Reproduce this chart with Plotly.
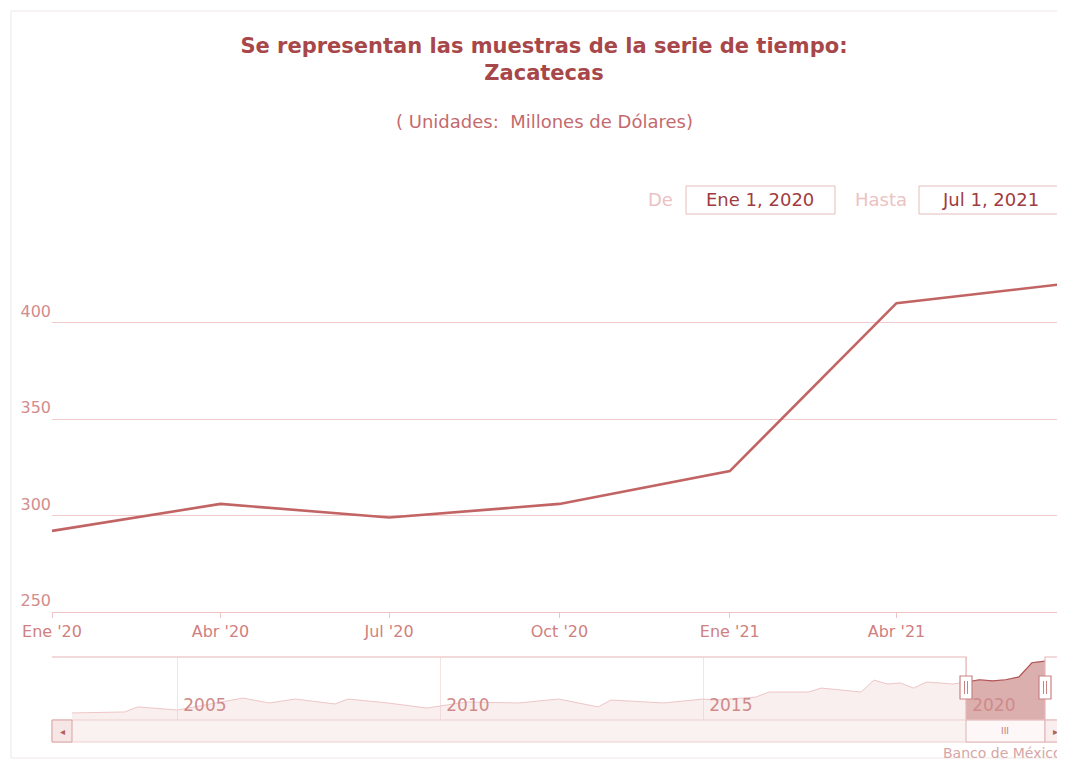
import plotly.graph_objects as go

# ---------------- data ----------------
main_dates = ["2020-01-01", "2020-04-01", "2020-07-01", "2020-10-01",
              "2021-01-01", "2021-04-01", "2021-07-01"]
main_values = [292, 306, 299, 306, 323, 410, 420]

x_tickvals = main_dates
x_ticktext = ["Ene '20", "Abr '20", "Jul '20", "Oct '20", "Ene '21", "Abr '21", "Jul '21"]

y_tickvals = [250, 300, 350, 400, 450]
y_ticktext = ["250", "300", "350", "400", ""]

hist_dates = ["2003-01-01", "2004-01-01", "2004-04-01", "2005-01-01", "2006-04-01",
              "2006-10-01", "2007-04-01", "2008-01-01", "2008-04-01", "2009-01-01",
              "2009-10-01", "2010-07-01", "2011-07-01", "2012-04-01", "2013-01-01",
              "2013-04-01", "2014-04-01", "2015-01-01", "2015-04-01", "2016-01-01",
              "2016-04-01", "2017-01-01", "2017-04-01", "2018-01-01", "2018-04-01",
              "2018-07-01", "2018-10-01", "2019-01-01", "2019-04-01", "2019-10-01"]
hist_values = [103, 109, 140, 121, 194, 164, 188, 158, 188, 164,
               133, 170, 164, 188, 140, 182, 164, 188, 182, 200,
               231, 231, 255, 231, 304, 280, 286, 255, 292, 280]

nav_tickvals = ["2005-01-01", "2010-01-01", "2015-01-01", "2020-01-01"]
nav_ticktext = ["2005", "2010", "2015", "2020"]

# ---------------- geometry helpers ----------------
# the page body adds an 8px margin, so the figure is offset by (8, 8)
OFF = 8
W, H = 1065 - OFF, 760 - OFF
L, R = 52 - OFF, 0
T = 226 - OFF
B = H - (742 - OFF)
PW = W - L - R
PH = H - T - B


def px(x):
    """page x (reference pixels) -> paper x"""
    return (x - OFF - L) / PW


def py(y):
    """page y (reference pixels) -> paper y"""
    return (H - B - (y - OFF)) / PH


FONT = "DejaVu Sans"
TITLE_C = "#a8474a"
LINE_C = "#c26464"
GRID_C = "#f0caca"
LABEL_C = "#cf8080"

fig = go.Figure()

fig.add_trace(go.Scatter(
    x=main_dates, y=main_values, mode="lines",
    line=dict(color=LINE_C, width=2.6), xaxis="x", yaxis="y",
    showlegend=False, hoverinfo="x+y"))

nav_all_x = hist_dates + main_dates
nav_all_y = hist_values + main_values
fig.add_trace(go.Scatter(
    x=nav_all_x, y=nav_all_y, mode="lines", fill="tozeroy",
    fillcolor="rgba(236,190,190,0.25)", line=dict(color="#eec6c6", width=1),
    xaxis="x2", yaxis="y2", showlegend=False, hoverinfo="skip"))
fig.add_trace(go.Scatter(
    x=main_dates, y=main_values, mode="lines", fill="tozeroy",
    fillcolor="rgba(205,140,140,0.65)", line=dict(color="#b25555", width=1.2),
    xaxis="x2", yaxis="y2", showlegend=False, hoverinfo="skip"))

shapes = []
# outer chart border
shapes.append(dict(type="rect", xref="paper", yref="paper",
                   x0=px(11), x1=px(1080), y0=py(758), y1=py(11),
                   line=dict(color="#f1e6e6", width=1), layer="below"))

# navigator outline
nav_top, nav_bot = 657, 720
sel_l, sel_r = 966, 1045
path = (f"M {px(52)},{py(nav_top)} L {px(sel_l)},{py(nav_top)} L {px(sel_l)},{py(nav_bot)} "
        f"L {px(sel_r)},{py(nav_bot)} L {px(sel_r)},{py(nav_top)} L {px(1070)},{py(nav_top)}")
shapes.append(dict(type="path", xref="paper", yref="paper", path=path,
                   line=dict(color="#e8b6b6", width=1.2)))

# scrollbar
sb_top, sb_bot = 720, 742
shapes.append(dict(type="rect", xref="paper", yref="paper",
                   x0=px(52), x1=px(1070), y0=py(sb_bot), y1=py(sb_top),
                   fillcolor="#faf1f1", line=dict(color="#efcfcf", width=1)))
shapes.append(dict(type="rect", xref="paper", yref="paper",
                   x0=px(52), x1=px(72), y0=py(sb_bot), y1=py(sb_top),
                   fillcolor="#f6e6e6", line=dict(color="#d9a2a2", width=1)))
shapes.append(dict(type="rect", xref="paper", yref="paper",
                   x0=px(sel_l), x1=px(sel_r), y0=py(sb_bot), y1=py(sb_top),
                   fillcolor="#fdf7f7", line=dict(color="#e0b2b2", width=1)))
shapes.append(dict(type="rect", xref="paper", yref="paper",
                   x0=px(sel_r), x1=px(1065), y0=py(sb_bot), y1=py(sb_top),
                   fillcolor="#f9eded", line=dict(color="#e0b2b2", width=1)))

# handles
for hx in (sel_l, sel_r):
    shapes.append(dict(type="rect", xref="paper", yref="paper",
                       x0=px(hx - 6), x1=px(hx + 6), y0=py(699), y1=py(676),
                       fillcolor="#ffffff", line=dict(color="#c98282", width=1.2)))
    for dx in (-1.5, 1.5):
        shapes.append(dict(type="line", xref="paper", yref="paper",
                           x0=px(hx + dx), x1=px(hx + dx), y0=py(694), y1=py(681),
                           line=dict(color="#c98282", width=1)))

# range input boxes
shapes.append(dict(type="rect", xref="paper", yref="paper",
                   x0=px(686), x1=px(835), y0=py(214), y1=py(186),
                   fillcolor="#ffffff", line=dict(color="#e6bcbc", width=1)))
shapes.append(dict(type="rect", xref="paper", yref="paper",
                   x0=px(919), x1=px(1075), y0=py(214), y1=py(186),
                   fillcolor="#ffffff", line=dict(color="#e6bcbc", width=1)))


def ann(text, x, y, size, color, xanchor="center"):
    return dict(text=text, xref="paper", yref="paper", x=px(x), y=py(y),
                xanchor=xanchor, yanchor="middle", showarrow=False,
                font=dict(family=FONT, size=size, color=color))


annotations = [
    ann("( Unidades:  Millones de Dólares)", 544, 121, 18, "#c46a6e"),
    ann("De", 660, 200, 18, "#ecc2c2"),
    ann("Ene 1, 2020", 760, 200, 18, "#a03c40"),
    ann("Hasta", 881, 200, 18, "#ecc2c2"),
    ann("Jul 1, 2021", 990, 200, 18, "#a03c40"),
    ann("◂", 62, 731, 10, "#b06060"),
    ann("▸", 1055, 731, 10, "#b06060"),
    ann("III", 1005, 731, 9, "#c07a7a"),
    ann("Banco de México", 1064, 753, 14, "#d6a6a6", xanchor="right"),
]

fig.update_layout(
    width=W, height=H,
    margin=dict(l=L, r=R, t=T, b=B),
    paper_bgcolor="#ffffff", plot_bgcolor="rgba(0,0,0,0)",
    title=dict(text="<b>Se representan las muestras de la serie de tiempo:<br>Zacatecas</b>",
               x=(544 - OFF) / W, xanchor="center", xref="container",
               y=1 - (53 - OFF) / H, yanchor="top", yref="container",
               font=dict(family=FONT, size=21, color=TITLE_C)),
    xaxis=dict(domain=[0, 1], type="date", range=["2020-01-01", "2021-07-01"],
               tickvals=x_tickvals, ticktext=x_ticktext, showgrid=False,
               showline=True, linecolor="#efc4c4", linewidth=1,
               ticks="outside", ticklen=5, tickcolor="#efc4c4",
               tickfont=dict(family=FONT, size=16, color=LABEL_C),
               anchor="y", zeroline=False, fixedrange=True),
    yaxis=dict(domain=[py(612), 1], range=[250, 450],
               tickvals=y_tickvals, ticktext=y_ticktext,
               showgrid=True, gridcolor=GRID_C, gridwidth=1,
               ticklabelposition="outside top", ticks="",
               tickfont=dict(family=FONT, size=16, color="#d38c8c"),
               zeroline=False, showline=False, anchor="x", fixedrange=True),
    xaxis2=dict(domain=[px(72), px(1045)], type="date",
                range=["2003-01-01", "2021-07-01"],
                tickvals=nav_tickvals, ticktext=nav_ticktext,
                showgrid=True, gridcolor="#f6e2e2", gridwidth=1,
                ticklabelposition="inside right", ticks="", ticklabelshift=6,
                tickfont=dict(family=FONT, size=17, color="#cf8a8a"),
                showline=False, zeroline=False, anchor="y2", fixedrange=True),
    yaxis2=dict(domain=[py(nav_bot), py(nav_top)], range=[60, 445],
                showticklabels=False, showgrid=False, zeroline=False,
                showline=False, anchor="x2", fixedrange=True),
    shapes=shapes,
    annotations=annotations,
)

fig.write_html("out.html")
